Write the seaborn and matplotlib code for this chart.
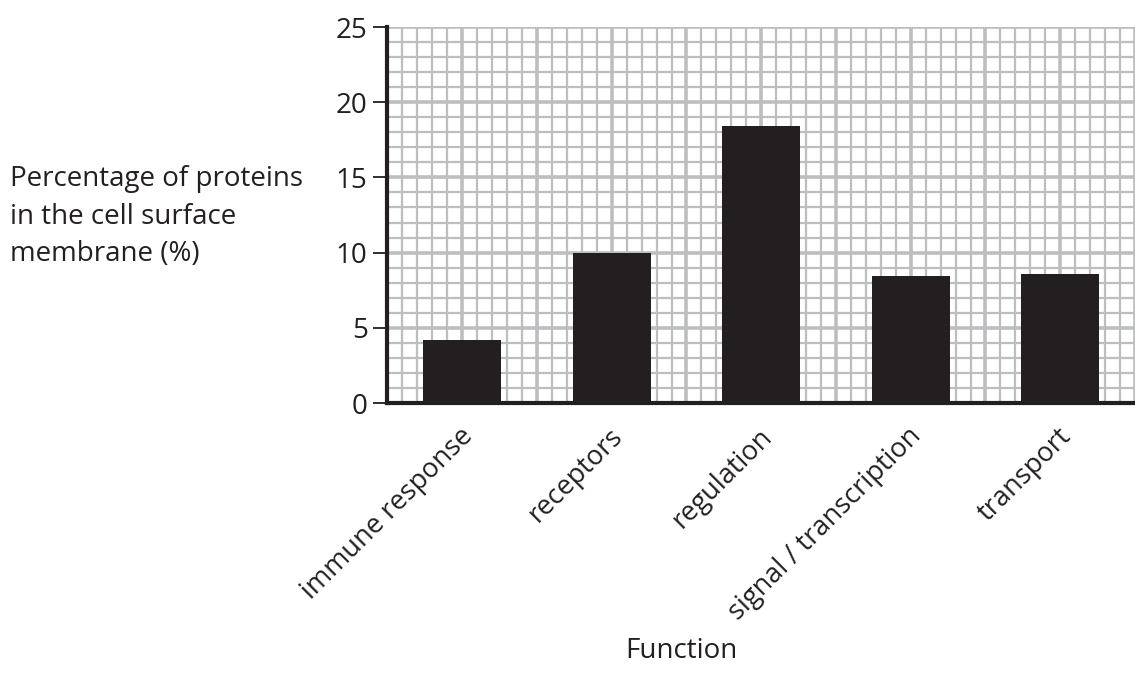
"""
Bar chart of cell surface membrane protein functions on graph paper
"""
import matplotlib
matplotlib.use("Agg")
import matplotlib.pyplot as plt
from matplotlib.ticker import MultipleLocator
import pandas as pd
import seaborn as sns

functions = ["immune response", "receptors", "regulation",
             "signal / transcription", "transport"]
percentages = [4.2, 10.0, 18.4, 8.45, 8.55]
y_ticks = [0, 5, 10, 15, 20, 25]

INK = "#231f20"
GRID = "#bcbec0"
FS = 20

sns.set_theme(style="white")
plt.rcParams["font.family"] = ["Open Sans", "DejaVu Sans"]

df = pd.DataFrame({"function": functions, "pct": percentages})

fig = plt.figure(figsize=(11.35, 6.84), dpi=100)
ax = fig.add_axes([0.341, 0.4108, 0.659, 0.5497])

sns.barplot(data=df, x="function", y="pct", color=INK, width=0.52,
            saturation=1, edgecolor=INK, linewidth=0, ax=ax, zorder=3)

ax.set_xlim(-0.503, 4.44)
ax.set_ylim(0, 25)
ax.set_yticks(y_ticks)

# graph paper grid
ax.set_xticks([i * 0.5 - 0.5 for i in range(11)])
ax.set_xticklabels([""] * 11)
ax.xaxis.set_minor_locator(MultipleLocator(0.1))
ax.yaxis.set_minor_locator(MultipleLocator(1))
ax.grid(which="major", color=GRID, linewidth=2.6)
ax.grid(which="minor", color=GRID, linewidth=1.6)
ax.set_axisbelow(True)

# category labels, rotated, ending under the bar centres
for i, name in enumerate(functions):
    ax.text(i - 0.02, -1.3, name, rotation=45, rotation_mode="anchor",
            ha="right", va="top", fontsize=FS - 0.5, color=INK)

ax.tick_params(axis="x", which="both", length=0)
ax.tick_params(axis="y", which="major", length=10, width=1.3, color=INK,
               labelsize=FS, labelcolor=INK, pad=4, left=True)
ax.tick_params(axis="y", which="minor", length=0)

for side in ["top", "right"]:
    ax.spines[side].set_visible(False)
for side in ["left", "bottom"]:
    ax.spines[side].set_color(INK)
    ax.spines[side].set_linewidth(3)
    ax.spines[side].set_zorder(4)

ax.set_xlabel("")
ax.set_ylabel("")

fig.text(0.009, 0.683, "Percentage of proteins\nin the cell surface\nmembrane (%)",
         ha="left", va="center", fontsize=FS, color=INK, linespacing=1.45)
fig.text(0.6, 0.048, "Function", ha="center", va="center", fontsize=FS,
         color=INK)

plt.savefig("out.png", dpi=100)
plt.close()
